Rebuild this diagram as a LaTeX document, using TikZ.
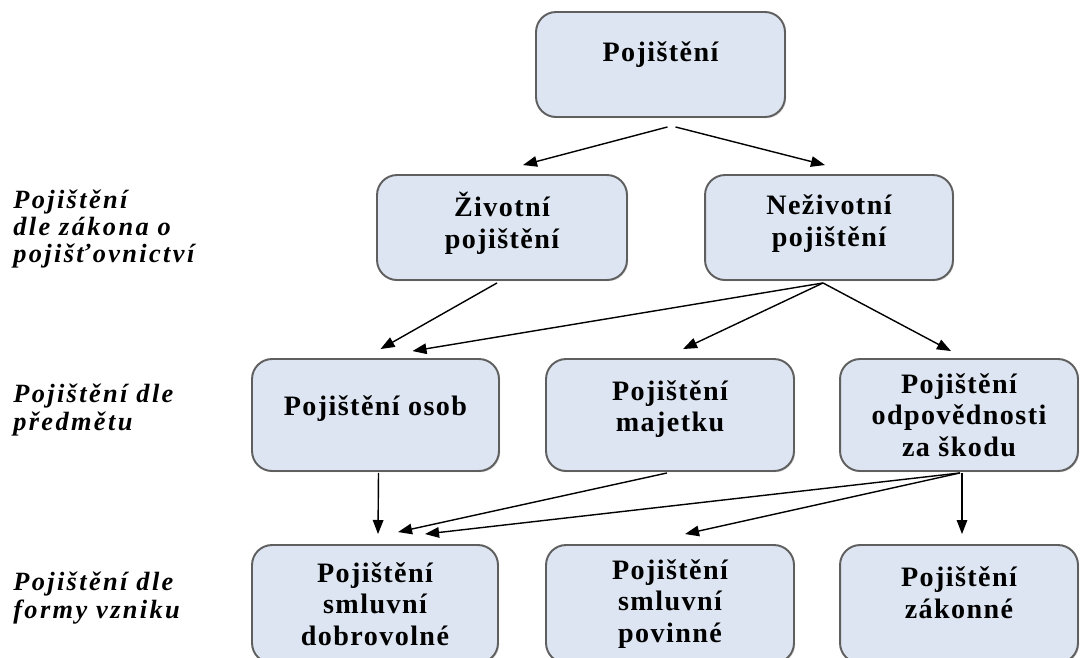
\documentclass[tikz,border=0pt]{standalone}
\usepackage{fontspec}
\setmainfont{Liberation Serif}[LetterSpace=5]
\newfontfamily\popisfont{Liberation Serif}[LetterSpace=9]
\usetikzlibrary{arrows.meta,calc,shadows}
\definecolor{boxmodra}{RGB}{220,229,241}
\definecolor{okraj}{RGB}{95,95,95}
% neviditelna podpera - posune text v krabici nahoru
\newcommand{\hloubka}[1]{\rule[-#1]{0pt}{#1}}
\tikzset{
  krabice/.style={draw=okraj, line width=1.1pt, fill=boxmodra, rounded corners=0.4cm,
    align=center, font=\fontsize{16}{18}\selectfont\bfseries,
    drop shadow={shadow xshift=0.7pt, shadow yshift=-0.7pt, opacity=0.3}},
  sipka/.style={-{Triangle[length=8pt,width=6pt]}, line width=0.8pt},
  popis/.style={anchor=west, align=left, inner sep=0pt,
    font=\popisfont\fontsize{15}{15.6}\selectfont\bfseries\itshape}
}
\begin{document}
\begin{tikzpicture}[x=0.02cm, y=-0.02cm]
        \useasboundingbox (0,0) rectangle (1081,657);

        % Krabice - horni uroven
        \node[krabice, minimum width=4.98cm, minimum height=2.1cm] (top) at (660.5,64.5) {Pojištění\hloubka{15pt}};

        % Dle zakona o pojistovnictvi
        \node[krabice, minimum width=5cm, minimum height=2.1cm] (zivotni) at (502,227.5) {Životní\\pojištění\hloubka{8pt}};
        \node[krabice, minimum width=4.96cm, minimum height=2.1cm] (nezivotni) at (829,227.5) {Neživotní\\pojištění\hloubka{8pt}};

        % Dle predmetu
        \node[krabice, minimum width=4.94cm, minimum height=2.24cm] (osob) at (375.5,415) {Pojištění osob\hloubka{11pt}};
        \node[krabice, minimum width=4.96cm, minimum height=2.24cm] (majetek) at (670,415) {Pojištění\\majetku\hloubka{10pt}};
        \node[krabice, minimum width=4.76cm, minimum height=2.24cm] (odpov) at (959,415) {Pojištění\\odpovědnosti\\za škodu};

        % Dle formy vzniku (spodek oriznut okrajem)
        \node[krabice, minimum width=4.92cm, minimum height=2.36cm] (dobrovolne) at (375,604) {Pojištění\\smluvní\\dobrovolné};
        \node[krabice, minimum width=4.96cm, minimum height=2.36cm] (povinne) at (670,604) {Pojištění\\smluvní\\povinné};
        \node[krabice, minimum width=4.76cm, minimum height=2.36cm] (zakonne) at (959,604) {Pojištění\\zákonné\hloubka{13pt}};

        % Popisky vlevo
        \node[popis] (popisA) at (13,229) {Pojištění\\dle zákona o\\pojišťovnictví};
        \node[popis] (popisB) at (13,410) {Pojištění dle\\předmětu};
        \node[popis] (popisC) at (13,598) {Pojištění dle\\formy vzniku};

        % Sipky
        \draw[sipka] ($(top.south)+(7,9)$) -- ($(zivotni.north)+(21,-9)$);
        \draw[sipka] ($(top.south)+(15,9)$) -- ($(nezivotni.north)+(-4,-9)$);
        \draw[sipka] ($(zivotni.south)+(-5,2)$) -- ($(osob.north)+(5,-9)$);
        \draw[sipka] ($(nezivotni.south)+(-6,2)$) -- ($(osob.north)+(37,-7)$);
        \draw[sipka] ($(nezivotni.south)+(-6,2)$) -- ($(majetek.north)+(13,-9)$);
        \draw[sipka] ($(nezivotni.south)+(-6,2)$) -- ($(odpov.north)+(-8,-7)$);
        \draw[sipka] ($(osob.south)+(3,1)$) -- ($(dobrovolne.north)+(3,-10)$);
        \draw[sipka] ($(majetek.south)+(-3,1)$) -- ($(dobrovolne.north)+(23,-12)$);
        \draw[sipka] ($(odpov.south)+(1,1)$) -- ($(dobrovolne.north)+(50,-10)$);
        \draw[sipka] ($(odpov.south)+(1,1)$) -- ($(povinne.north)+(15,-10)$);
        \draw[sipka] ($(odpov.south)+(3,1)$) -- ($(zakonne.north)+(3,-10)$);
    \end{tikzpicture}
\end{document}
